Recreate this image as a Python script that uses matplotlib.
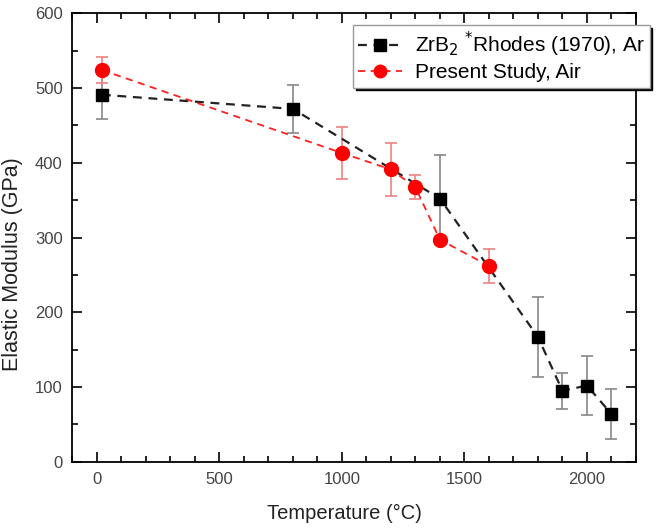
import numpy as np
import matplotlib.pyplot as plt
from matplotlib.ticker import MultipleLocator

plt.rcParams['font.family'] = ['Liberation Sans', 'DejaVu Sans']

# ZrB2 reference data, Rhodes (1970), argon
T_rhodes = [20, 800, 1400, 1800, 1900, 2000, 2100]
E_rhodes = [491, 472, 352, 167, 95, 102, 64]
err_rhodes = [33, 32, 59, 54, 24, 40, 33]

# present study, air
T_air = [20, 1000, 1200, 1300, 1400, 1600]
E_air = [524, 413, 391, 367, 297, 262]
err_air = [17, 35, 36, 16, 0, 23]

fig = plt.figure(figsize=(6.59, 5.29), dpi=100)
ax = fig.add_axes([0.110, 0.127, 0.855, 0.848])

ax.errorbar(T_rhodes, E_rhodes, yerr=err_rhodes, fmt='none', ecolor='#888888',
            elinewidth=1.2, capsize=4, capthick=1.2, zorder=2)
ax.errorbar(T_air, E_air, yerr=err_air, fmt='none', ecolor='#f08080',
            elinewidth=1.2, capsize=4, capthick=1.2, zorder=2)

ax.plot(T_rhodes, E_rhodes, ls='--', color='#222222', lw=1.6, dashes=(4, 3),
        marker='s', ms=9, mfc='black', mec='black',
        label='ZrB$_2$ $^{*}$Rhodes (1970), Ar', zorder=3)
ax.plot(T_air, E_air, ls='--', color='#ff2020', lw=1.3, dashes=(4, 3),
        marker='o', ms=10, mfc='red', mec='red',
        label='Present Study, Air', zorder=4)

ax.set_xlim(-100, 2200)
ax.set_ylim(0, 600)
ax.xaxis.set_major_locator(MultipleLocator(500))
ax.xaxis.set_minor_locator(MultipleLocator(100))
ax.yaxis.set_major_locator(MultipleLocator(100))
ax.yaxis.set_minor_locator(MultipleLocator(50))
ax.tick_params(which='both', direction='in', top=True, right=True,
               labelsize=12, labelcolor='#444444', width=1.2)
ax.tick_params(which='major', length=7, pad=7)
ax.tick_params(which='minor', length=4)
for s in ax.spines.values():
    s.set_linewidth(1.3)

ax.set_xlabel('Temperature (°C)', fontsize=14.5, color='#222222')
ax.set_ylabel('Elastic Modulus (GPa)', fontsize=15.5, color='#222222')
ax.xaxis.set_label_coords(0.482, -0.094)
ax.yaxis.set_label_coords(-0.087, 0.44)

leg = ax.legend(loc='upper left', bbox_to_anchor=(0.536, 0.953),
                bbox_transform=fig.transFigure, fontsize=15, frameon=True,
                fancybox=False, shadow={'color': 'black', 'alpha': 1},
                borderpad=0.25, handlelength=2.1, handletextpad=0.6,
                labelspacing=0.2, borderaxespad=0, markerscale=0.9)
leg.get_frame().set_edgecolor('#999999')
leg.get_frame().set_linewidth(1.0)

fig.savefig('out.png', dpi=100)
